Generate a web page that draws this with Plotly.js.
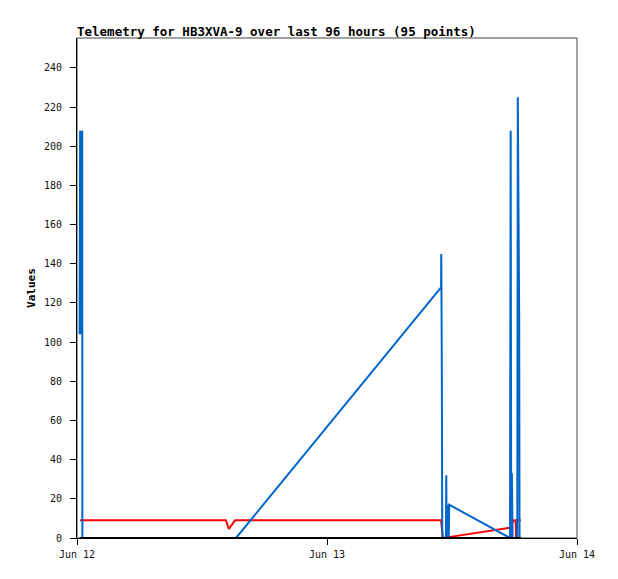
<!DOCTYPE html>
<html>
<head>
<meta charset="utf-8">
<script src="https://cdn.plot.ly/plotly-3.0.1.min.js"></script>
<style>html,body{margin:0;padding:0;background:#fff;}#chart{width:618px;height:579px;}</style>
</head>
<body>
<div id="chart"></div>
<script>
// ---- data ----
const blueTimes = [
  '2023-06-12 00:15','2023-06-12 00:18','2023-06-12 00:21','2023-06-12 00:24','2023-06-12 00:27','2023-06-12 00:30','2023-06-12 00:31',
  '2023-06-12 15:16',
  '2023-06-13 10:57','2023-06-13 10:58','2023-06-13 11:01','2023-06-13 11:04',
  '2023-06-13 11:25','2023-06-13 11:27','2023-06-13 11:29','2023-06-13 11:32','2023-06-13 11:35','2023-06-13 11:38','2023-06-13 11:41','2023-06-13 11:44',
  '2023-06-13 17:34','2023-06-13 17:38','2023-06-13 17:41','2023-06-13 17:45','2023-06-13 17:49',
  '2023-06-13 18:16','2023-06-13 18:19','2023-06-13 18:27','2023-06-13 18:29'
];
const blueValues = [
  104, 208, 104, 208, 104, 208, 0,
  0,
  128, 145, 97, 0,
  0, 32, 0, 17, 0, 17, 0, 17,
  0, 208, 0, 33, 0,
  0, 225, 113, 0
];
const redTimes = [
  '2023-06-12 00:17','2023-06-12 14:18','2023-06-12 14:35','2023-06-12 15:10',
  '2023-06-13 10:57','2023-06-13 11:02','2023-06-13 11:08','2023-06-13 12:00',
  '2023-06-13 17:34','2023-06-13 17:57','2023-06-13 18:07','2023-06-13 18:09','2023-06-13 18:11','2023-06-13 18:37'
];
const redValues = [9, 9, 4.6, 9, 9, 4.6, 0, 0.7, 5.3, 9, 9, 0, 9, 9];
const blackTimes = ['2023-06-12 00:17', '2023-06-13 18:37'];
const blackValues = [0, 0];
const xTickVals = ['2023-06-12', '2023-06-13', '2023-06-14'];
const xTickText = ['Jun 12', 'Jun 13', 'Jun 14'];
const yTickVals = [0, 20, 40, 60, 80, 100, 120, 140, 160, 180, 200, 220, 240];
const titleText = 'Telemetry for HB3XVA-9 over last 96 hours (95 points)';
const yTitle = 'Values';

const traces = [
  {x: redTimes, y: redValues, type: 'scatter', mode: 'lines', line: {color: '#ff0000', width: 2}, hoverinfo: 'skip'},
  {x: blueTimes, y: blueValues, type: 'scatter', mode: 'lines', line: {color: '#0066cc', width: 2}, hoverinfo: 'skip'},
  {x: blackTimes, y: blackValues, type: 'scatter', mode: 'lines', line: {color: '#000000', width: 2}, hoverinfo: 'skip'}
];

const mono = '"DejaVu Sans Mono", monospace';
const layout = {
  width: 618, height: 579,
  margin: {l: 77, r: 41, t: 38, b: 41, pad: 0},
  paper_bgcolor: '#ffffff', plot_bgcolor: '#ffffff',
  showlegend: false,
  title: {
    text: '<b>' + titleText + '</b>',
    font: {family: mono, size: 12.5, color: '#000'},
    xref: 'paper', x: 0, xanchor: 'left',
    yref: 'container', y: 1 - 32/579, yanchor: 'middle'
  },
  xaxis: {
    type: 'date',
    range: ['2023-06-12', '2023-06-14'],
    tickvals: xTickVals, ticktext: xTickText,
    ticks: 'outside', ticklen: 6, tickcolor: '#000', tickwidth: 1,
    showgrid: false, zeroline: false,
    showline: true, linecolor: '#000', linewidth: 1,
    tickfont: {family: mono, size: 10, color: '#111'},
    ticklabelstandoff: 1,
    fixedrange: true
  },
  yaxis: {
    range: [0, 255.3],
    tickvals: yTickVals,
    ticks: 'outside', ticklen: 6, tickcolor: '#000', tickwidth: 1,
    showgrid: false, zeroline: false,
    showline: true, linecolor: '#000', linewidth: 1,
    tickfont: {family: mono, size: 10, color: '#111'},
    ticklabelstandoff: 6,
    title: {text: '<b>' + yTitle + '</b>', font: {family: mono, size: 11, color: '#000'}, standoff: 6},
    fixedrange: true
  },
  shapes: [
    {type: 'rect', xref: 'paper', yref: 'paper', x0: 0, x1: 1, y0: 0, y1: 1,
     line: {color: '#444', width: 1}, layer: 'below'}
  ]
};

Plotly.newPlot('chart', traces, layout, {staticPlot: true, displayModeBar: false});
</script>
</body>
</html>
